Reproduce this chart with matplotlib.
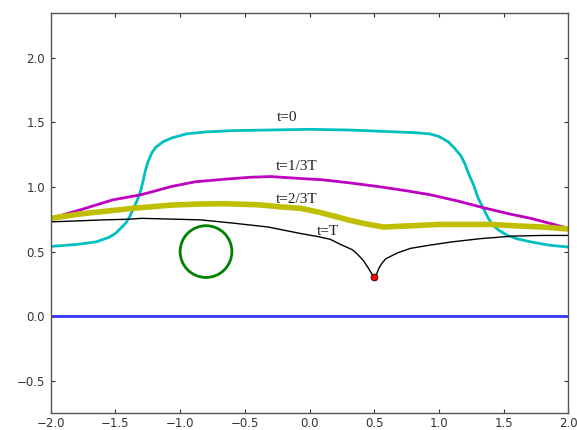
import matplotlib
matplotlib.use("Agg")
import matplotlib.pyplot as plt
from matplotlib.patches import Circle

# --- curve data ---
# t=0 (cyan)
x_t0 = [-2.0, -1.8, -1.65, -1.55, -1.50, -1.45, -1.42, -1.39, -1.36, -1.33, -1.305, -1.285,
        -1.27, -1.25, -1.22, -1.19, -1.13, -1.06, -0.95, -0.8, -0.6, -0.3, 0.0, 0.3, 0.55,
        0.8, 0.93, 1.0, 1.07, 1.12, 1.17, 1.20, 1.23, 1.27, 1.30, 1.34, 1.38, 1.42, 1.47,
        1.53, 1.6, 1.71, 1.85, 2.0]
y_t0 = [0.54, 0.555, 0.575, 0.61, 0.64, 0.69, 0.72, 0.77, 0.835, 0.90, 0.97, 1.05,
        1.12, 1.19, 1.26, 1.305, 1.35, 1.38, 1.41, 1.425, 1.435, 1.44, 1.445, 1.44, 1.43,
        1.42, 1.41, 1.39, 1.35, 1.30, 1.24, 1.18, 1.10, 1.01, 0.92, 0.84, 0.76, 0.70, 0.66,
        0.625, 0.60, 0.575, 0.55, 0.535]

# t=1/3T (magenta)
x_t1 = [-2.0, -1.78, -1.52, -1.30, -1.06, -0.88, -0.65, -0.45, -0.3, -0.07, 0.1, 0.32,
        0.55, 0.75, 0.93, 1.15, 1.34, 1.55, 1.71, 1.85, 2.0]
y_t1 = [0.757, 0.82, 0.90, 0.94, 1.005, 1.04, 1.06, 1.075, 1.08, 1.065, 1.055, 1.03,
        1.0, 0.97, 0.94, 0.89, 0.84, 0.79, 0.757, 0.72, 0.68]

# t=2/3T (yellow)
x_t2 = [-2.0, -1.78, -1.55, -1.36, -1.06, -0.84, -0.65, -0.4, -0.32, -0.22, -0.07, 0.07,
        0.187, 0.32, 0.43, 0.57, 0.68, 0.80, 1.0, 1.19, 1.4, 1.575, 1.8, 2.0]
y_t2 = [0.757, 0.79, 0.815, 0.835, 0.86, 0.868, 0.87, 0.862, 0.855, 0.845, 0.835, 0.805,
        0.775, 0.74, 0.715, 0.69, 0.695, 0.70, 0.71, 0.71, 0.71, 0.70, 0.69, 0.675]

# t=T (black)
x_t3 = [-2.0, -1.8, -1.6, -1.4, -1.3, -1.1, -0.84, -0.59, -0.32, -0.22, -0.07, 0.07,
        0.16, 0.24, 0.33, 0.37, 0.417, 0.456, 0.48, 0.5, 0.52, 0.535, 0.56, 0.59, 0.63,
        0.68, 0.78, 0.93, 1.1, 1.32, 1.575, 1.8, 2.0]
y_t3 = [0.73, 0.737, 0.745, 0.75, 0.757, 0.752, 0.745, 0.72, 0.69, 0.67, 0.64, 0.615,
        0.595, 0.555, 0.515, 0.48, 0.43, 0.37, 0.33, 0.30, 0.33, 0.37, 0.41, 0.445, 0.465,
        0.49, 0.525, 0.55, 0.575, 0.60, 0.62, 0.625, 0.625]

# zero line, circle, point
x_zero = [-2.0, 2.0]
y_zero = [0.0, 0.0]
circle_center = (-0.8, 0.5)
circle_radius = 0.2
point_x = [0.5]
point_y = [0.3]

labels = ["t=0", "t=1/3T", "t=2/3T", "t=T"]
label_x = [-0.17, -0.10, -0.10, 0.14]
label_y = [1.54, 1.16, 0.905, 0.657]

xticks = [-2.0, -1.5, -1.0, -0.5, 0.0, 0.5, 1.0, 1.5, 2.0]
yticks = [-0.5, 0.0, 0.5, 1.0, 1.5, 2.0]

fig = plt.figure(figsize=(5.77, 4.30), dpi=100)
ax = fig.add_axes([0.0879, 0.0388, 0.8971, 0.9312])

ax.plot(x_zero, y_zero, color=(0.2, 0.2, 1.0), lw=2)
ax.plot(x_t0, y_t0, color=(0.0, 0.75, 0.75), lw=2)
ax.plot(x_t1, y_t1, color=(0.75, 0.0, 0.75), lw=2)
ax.plot(x_t2, y_t2, color=(0.75, 0.75, 0.0), lw=4)
ax.plot(x_t3, y_t3, color="k", lw=1)
ax.add_patch(Circle(circle_center, circle_radius, fill=False, ec=(0.0, 0.5, 0.0), lw=2))
ax.plot(point_x, point_y, "o", color="red", ms=5, mec="k", mew=0.5)

for lab, lx, ly in zip(labels, label_x, label_y):
    ax.text(lx, ly, lab, ha="center", va="center", fontsize=11,
            family="Liberation Serif", color="#222222")

ax.set_xlim(-2.0, 2.0)
ax.set_ylim(-0.75, 2.345)
ax.set_xticks(xticks)
ax.set_yticks(yticks)
ax.set_xticklabels([f"{v:.1f}".replace("-", "\u2212") for v in xticks])
ax.set_yticklabels([f"{v:.1f}".replace("-", "\u2212") for v in yticks])
ax.tick_params(direction="in", length=3, width=0.8, top=True, right=True,
               labelsize=8.5, pad=4, colors="#333333")
ax.tick_params(axis="x", pad=2.5)
for s in ax.spines.values():
    s.set_color("#555555")
    s.set_linewidth(1.0)

fig.savefig("out.png", dpi=100)
